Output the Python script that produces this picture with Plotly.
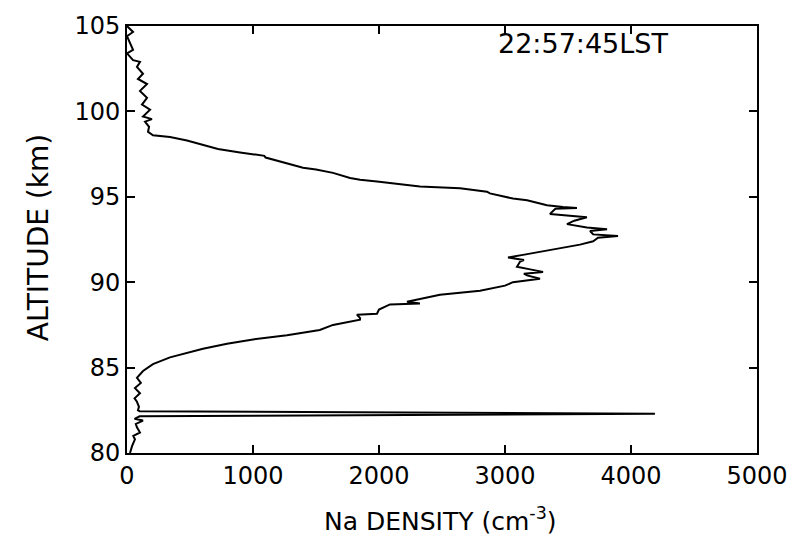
import plotly.graph_objects as go

# Sodium density profile (altitude in km, density in cm^-3), traced top to bottom
altitude_km = [
    105.0, 104.65, 104.4, 104.0, 103.6, 103.4, 103.0, 102.9, 102.6, 102.2,
    101.9, 101.6, 101.2, 100.8, 100.4, 100.1, 99.7, 99.55, 99.4, 99.1,
    98.8, 98.6, 98.5, 98.3, 98.05, 97.8, 97.6, 97.45, 97.4, 97.3,
    97.0, 96.7, 96.6, 96.4, 96.1, 96.0, 95.9, 95.8, 95.6, 95.5,
    95.3, 95.2, 95.05, 94.9, 94.8, 94.5, 94.4, 94.35, 94.3, 94.0,
    93.8, 93.6, 93.4, 93.2, 93.1, 93.0, 92.8, 92.7, 92.6, 92.4,
    92.2, 91.9, 91.6, 91.45, 91.3, 91.2, 90.9, 90.75, 90.6, 90.5,
    90.4, 90.2, 90.0, 89.8, 89.7, 89.5, 89.26, 89.0, 88.85, 88.75,
    88.7, 88.4, 88.15, 88.1, 87.9, 87.8, 87.5, 87.2, 87.0, 86.9,
    86.65, 86.4, 86.1, 85.85, 85.6, 85.2, 84.8, 84.4, 84.1, 83.8,
    83.5, 83.2, 83.0, 82.7, 82.5, 82.45, 82.3, 82.15, 82.0, 81.9,
    81.7, 81.5, 81.2, 81.0, 80.8, 80.4, 80.0,
]
density_cm3 = [
    0, 48, 0, 24, 48, 0, 48, 103, 79, 127,
    87, 159, 103, 159, 119, 183, 127, 198, 143, 175,
    167, 206, 341, 476, 603, 722, 897, 1030, 1090, 1100,
    1238, 1397, 1500, 1635, 1770, 1850, 1984, 2111, 2325, 2643,
    2857, 2880, 2984, 3063, 3175, 3333, 3460, 3571, 3400, 3357,
    3650, 3550, 3492, 3650, 3810, 3675, 3700, 3897, 3738, 3700,
    3595, 3381, 3143, 3024, 3150, 3119, 3095, 3200, 3302, 3150,
    3175, 3278, 3063, 3000, 2937, 2802, 2484, 2300, 2222, 2325,
    2087, 2000, 1984, 1825, 1850, 1849, 1635, 1530, 1373, 1270,
    1000, 794, 603, 476, 341, 206, 127, 79, 110, 63,
    103, 60, 79, 95, 87, 100, 4190, 100, 60, 127,
    70, 79, 103, 50, 63, 40, 24,
]

x_ticks = [0, 1000, 2000, 3000, 4000, 5000]
y_ticks = [80, 85, 90, 95, 100, 105]

FONT = "DejaVu Sans"

fig = go.Figure()
fig.add_trace(go.Scatter(
    x=density_cm3, y=altitude_km, mode="lines",
    line=dict(color="black", width=2), showlegend=False,
))

axis_common = dict(
    showgrid=False, zeroline=False, showline=True, linecolor="black", linewidth=2,
    ticks="inside", ticklen=8, tickwidth=1.5, tickcolor="black", mirror="ticks",
    tickfont=dict(family=FONT, size=24, color="black"),
)
fig.update_xaxes(range=[0, 5000], tickvals=x_ticks, ticktext=[str(v) for v in x_ticks], **axis_common)
fig.update_yaxes(range=[80, 105], tickvals=y_ticks, ticktext=[str(v) for v in y_ticks], **axis_common)

fig.update_layout(
    width=801, height=554,
    margin=dict(l=127, r=44, t=21, b=101),
    plot_bgcolor="white", paper_bgcolor="white",
    annotations=[
        dict(text="ALTITUDE (km)", xref="paper", yref="paper", x=-0.14, y=0.505,
             textangle=-90, showarrow=False, xanchor="center", yanchor="middle",
             font=dict(family=FONT, size=28, color="black")),
        dict(text="Na DENSITY (cm<sup>-3</sup>)", xref="paper", yref="paper", x=0.497, y=-0.155,
             showarrow=False, xanchor="center", yanchor="middle",
             font=dict(family=FONT, size=25, color="black")),
        dict(text="22:57:45LST", xref="paper", yref="paper", x=0.585, y=0.96,
             showarrow=False, xanchor="left", yanchor="middle",
             font=dict(family=FONT, size=27, color="black")),
    ],
)

fig.write_html("out.html")
